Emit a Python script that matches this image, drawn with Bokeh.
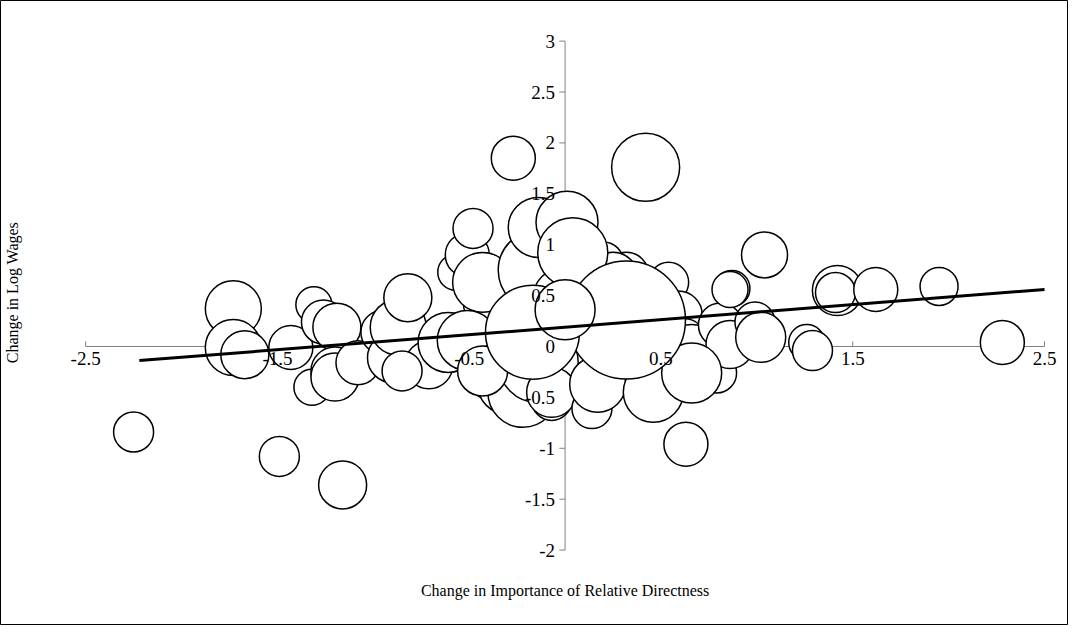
from bokeh.plotting import figure
from bokeh.models import Range1d, Label
from bokeh.embed import file_html
from bokeh.resources import INLINE
from bokeh.core.properties import value

# bubble data: change in relative directness, change in log wages, weight
dx = [-2.25, -1.49, -1.16, -1.73, -1.73, -1.67, -1.31, -1.43, -1.32, -1.26,
      -1.19, -1.20, -1.20, -1.08, -0.95, -0.90, -0.87, -0.82, -0.71, -0.61,
      -0.57, -0.51, -0.48, -0.40, -0.43, -0.51, -0.37, -0.27, -0.30, -0.22,
      -0.17, -0.14, -0.14, -0.07, -0.14, -0.01, 0.01, -0.07, 0.14,
      0.17, 0.25, 0.30, 0.32, 0.42, 0.20, 0.25, 0.40, 0.54, 0.59, 0.62,
      0.66, 0.63, 0.79, 0.81, 0.86, 0.87, 1.04, 0.99, 1.02, 1.26, 1.29,
      1.42, 1.41, 1.62, 1.95, 2.28, 0.86, 0.46, 0.66, 0.04, -0.43, -0.85,
      0.32, -0.17, 0.00]
dy = [-0.84, -1.08, -1.36, 0.37, -0.01, -0.08, 0.41, -0.01, -0.40, 0.24,
      0.19, -0.24, -0.30, -0.16, 0.14, -0.11, 0.19, 0.48, -0.18, 0.04,
      0.73, 0.90, 1.16, 0.43, 0.63, 0.06, -0.26, 1.85, -0.37, -0.45,
      0.83, 0.75, -0.16, -0.53, 1.17, 0.48, 1.22, -0.45, -0.61,
      -0.37, 0.24, 0.51, 0.71, 1.76, 0.83, 0.68, 0.53, 0.63, 0.31, 0.06,
      -0.06, -0.96, -0.26, 0.21, 0.02, 0.57, 0.90, 0.24, 0.09, 0.04, -0.04,
      0.55, 0.53, 0.56, 0.59, 0.04, 0.56, -0.45, -0.26, 0.92, -0.24, -0.24,
      0.26, 0.14, 0.36]
weight = [40, 40, 48, 56, 56, 48, 36, 44, 36, 44,
          48, 48, 48, 44, 44, 50, 56, 48, 48, 60,
          36, 44, 40, 50, 60, 60, 56, 44, 60, 70,
          40, 80, 80, 40, 60, 60, 62, 50, 40,
          56, 60, 50, 44, 68, 40, 50, 50, 40, 48, 44,
          56, 44, 40, 44, 48, 36, 46, 40, 50, 36, 40,
          50, 40, 44, 38, 44, 36, 60, 60, 70, 50, 40,
          118, 94, 60]

# fitted line
fit_x = [-2.22, 2.5]
slope, intercept = 0.148, 0.19
fit_y = [intercept + slope * v for v in fit_x]

x_ticks = [-2.5, -1.5, -0.5, 0.5, 1.5, 2.5]
y_ticks = [-2, -1.5, -1, -0.5, 0, 0.5, 1, 1.5, 2, 2.5, 3]

font = value("Liberation Serif")

p = figure(width=1068, height=625, output_backend="svg", toolbar_location=None,
           x_range=Range1d(-2.944, 2.625), y_range=Range1d(-2.741, 3.399),
           min_border=0, x_axis_location=None, y_axis_location=None)
p.grid.visible = False
p.outline_line_color = "black"
p.outline_line_width = 1

ax_col = "#808080"
p.segment(x0=[-2.5], y0=[0], x1=[2.5], y1=[0], line_color=ax_col, line_width=1)
p.segment(x0=[0], y0=[-2], x1=[0], y1=[3], line_color=ax_col, line_width=1)
p.segment(x0=x_ticks, y0=[0] * len(x_ticks), x1=x_ticks, y1=[0.05] * len(x_ticks),
          line_color=ax_col)
p.segment(x0=[-0.03] * len(y_ticks), y0=y_ticks, x1=[0] * len(y_ticks), y1=y_ticks,
          line_color=ax_col)

p.scatter(dx, dy, size=weight, fill_color="white", line_color="black", line_width=1.5)
p.line(fit_x, fit_y, line_color="black", line_width=3)

p.text(x_ticks, [0] * len(x_ticks), text=[f"{t:g}" for t in x_ticks], y_offset=6,
       text_align="center", text_baseline="top", text_font=font, text_font_size="19px",
       text_color="black")
p.text([0] * len(y_ticks), y_ticks, text=[f"{t:g}" for t in y_ticks], x_offset=-10,
       text_align="right", text_baseline="middle", text_font=font, text_font_size="19px",
       text_color="black")

p.add_layout(Label(x=0, y=-2.40, text="Change in Importance of Relative Directness",
                   text_align="center", text_baseline="middle", text_color="black",
                   text_font="Liberation Serif", text_font_size="16px"))
p.add_layout(Label(x=-2.88, y=0.53, text="Change in Log Wages", angle=1.5708,
                   text_align="center", text_baseline="middle", text_color="black",
                   text_font="Liberation Serif", text_font_size="16px"))

open("out.html", "w").write(file_html(p, INLINE))
